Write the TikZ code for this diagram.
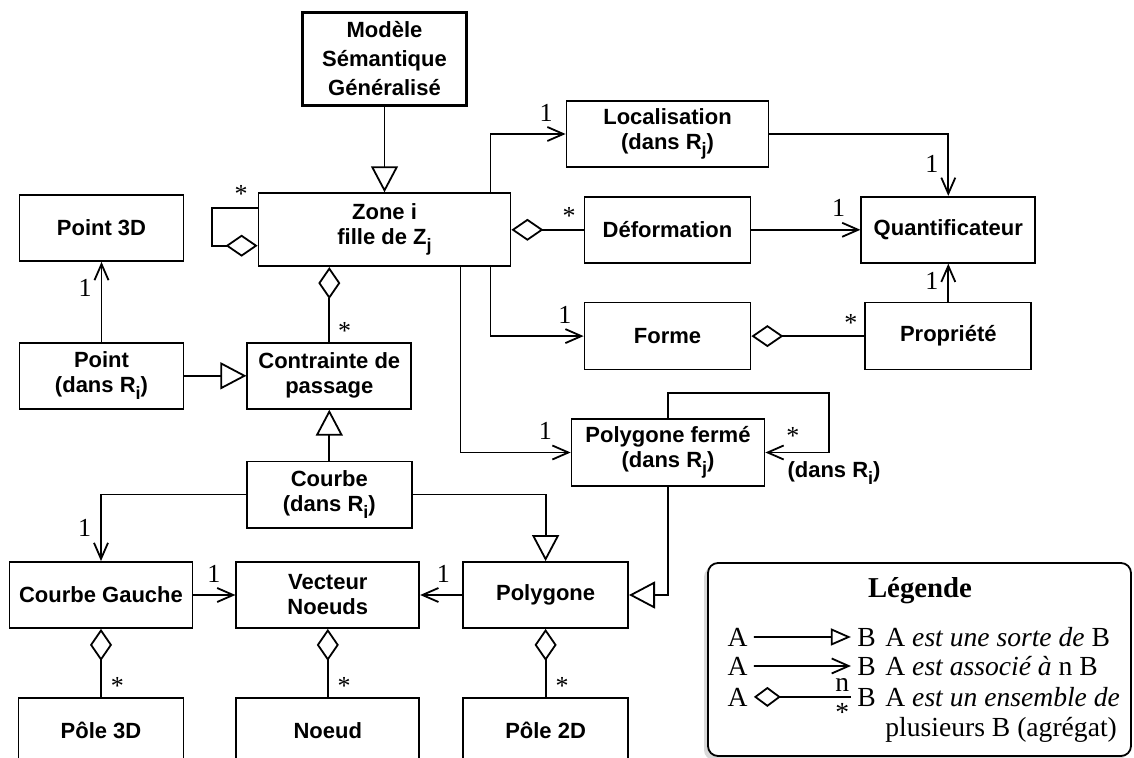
\documentclass[tikz,border=0pt]{standalone}
\usepackage{fontspec}
\setmainfont{Liberation Serif}
\setsansfont{Liberation Sans}
\usepackage{tikz}
\usetikzlibrary{arrows.meta,positioning,shadows}

\newcommand{\idx}[1]{\raisebox{-3.4pt}{\fontsize{9}{9}\selectfont #1}}

\begin{document}
\begin{tikzpicture}[
    x=0.5pt, y=-0.5pt,
    every node/.style={font=\fontsize{11}{12.5}\selectfont\sffamily\bfseries},
    classe/.style={rectangle, draw, line width=0.9pt, minimum height=33pt, align=center, inner sep=2pt},
    gen/.style={-{Triangle[open, length=13pt, width=13.5pt]}, line width=0.9pt},
    assoc/.style={-{Straight Barb[length=8pt, width=7pt]}, line width=0.9pt},
    aggr/.style={{Diamond[open, length=16pt, width=11pt]}-, line width=0.9pt},
    mult/.style={font=\fontsize{13}{13}\selectfont, inner sep=1pt},
    legtxt/.style={font=\fontsize{13.8}{15}\selectfont, inner sep=3pt}
]
\useasboundingbox (0,0) rectangle (1134,758);

% classes
\node[classe, line width=1.8pt, minimum width=82pt, minimum height=46.5pt, font=\fontsize{11}{14.5}\selectfont\sffamily\bfseries] (modele) at (384.5,59) {Modèle\\Sémantique\\Généralisé};
\node[classe, minimum width=126pt, minimum height=36.5pt, below=42.5pt of modele] (zone) {Zone i\\fille de Z\idx{j}};

\node[classe, minimum width=82pt] (point3d) at (101.5,228) {Point 3D};
\node[classe, minimum width=82pt, below=40pt of point3d] (point) {Point\\(dans R\idx{i})};
\node[classe, minimum width=82pt, right=31pt of point] (contrainte) {Contrainte de\\passage};
\node[classe, minimum width=82.5pt, below=25.5pt of contrainte] (courbe) {Courbe\\(dans R\idx{i})};

\node[classe, minimum width=91.5pt] (cgauche) at (101,595) {Courbe Gauche};
\node[classe, minimum width=91.5pt, right=21pt of cgauche] (vecteur) {Vecteur\\Noeuds};
\node[classe, minimum width=82.5pt, right=21pt of vecteur] (polygone) {Polygone};
\node[classe, minimum width=82.5pt, below=34pt of cgauche] (pole3d) {Pôle 3D};
\node[classe, minimum width=91.5pt, below=34pt of vecteur] (noeud) {Noeud};
\node[classe, minimum width=82.5pt, below=34pt of polygone] (pole2d) {Pôle 2D};

\node[classe, minimum width=101pt] (loc) at (667.5,134) {Localisation\\(dans R\idx{j})};
\node[classe, minimum width=83pt, below=14pt of loc] (deform) {Déformation};
\node[classe, minimum width=87pt, right=54.5pt of deform] (quant) {Quantificateur};
\node[classe, minimum width=83pt, minimum height=33.5pt, below=19pt of deform] (forme) {Forme};
\node[classe, minimum width=83pt, minimum height=33.5pt, below=19pt of quant] (prop) {Propriété};
\node[classe, minimum width=96.5pt, minimum height=33.5pt] (pferme) at (668,452.5) {Polygone fermé\\(dans R\idx{j})};

% relations
\draw[gen] (modele) -- (zone);
\draw[aggr] ([yshift=-8pt]zone.west) -- ++(-46,0) |- node[mult, pos=0.82, above=1pt] {*} ([yshift=11pt]zone.west);
\draw[assoc] ([xshift=53pt]zone.north) |- node[mult, pos=0.87, above=5pt] {1} (loc.west);
\draw[assoc] (loc.east) -| node[mult, pos=0.74, left=3.5pt] {1} (quant.north);
\draw[aggr] (zone.east |- deform.west) -- node[mult, pos=0.8, above=1pt] {*} (deform.west);
\draw[assoc] (deform) -- node[mult, pos=0.8, above=5pt] {1} (quant);
\draw[assoc] ([xshift=53pt]zone.south) |- node[mult, pos=0.9, above=5pt] {1} (forme.west);
\draw[aggr] (forme) -- node[mult, pos=0.88, above=1pt] {*} (prop);
\draw[assoc] (prop) -- node[mult, pos=0.55, left=3.5pt] {1} (quant);
\draw[assoc] ([xshift=38pt]zone.south) |- node[mult, pos=0.885, above=5pt] {1} (pferme.west);
\draw[assoc] (pferme.north) -- ++(0,-25) -- ++(161,0) |- node[mult, pos=0.785, above=2.5pt] {*}
    node[pos=0.5, below=3pt, xshift=2.5pt, inner sep=1pt] {(dans R\idx{i})} (pferme.east);
\draw[gen] (pferme.south) |- (polygone.east);

\draw[aggr] (zone.south -| contrainte.north) -- node[mult, pos=0.85, right=3pt] {*} (contrainte.north);
\draw[assoc] (point) -- node[mult, pos=0.67, left=3.5pt] {1} (point3d);
\draw[gen] (point) -- (contrainte);
\draw[gen] (courbe) -- (contrainte);
\draw[assoc] (courbe.west) -| node[mult, pos=0.75, left=3.5pt] {1} (cgauche.north);
\draw[gen] (courbe.east) -| (polygone.north);
\draw[assoc] (cgauche) -- node[mult, pos=0.49, above=5pt] {1} (vecteur);
\draw[assoc] (polygone) -- node[mult, pos=0.45, above=5pt] {1} (vecteur);
\draw[aggr] (cgauche) -- node[mult, pos=0.84, right=3.5pt] {*} (pole3d);
\draw[aggr] (vecteur) -- node[mult, pos=0.84, right=3.5pt] {*} (noeud);
\draw[aggr] (polygone) -- node[mult, pos=0.84, right=3.5pt] {*} (pole2d);

% legende
\node[draw, line width=0.9pt, rounded corners=5pt, fill=white, minimum width=211.5pt, minimum height=96.5pt,
    drop shadow={shadow xshift=-2pt, shadow yshift=-2pt, opacity=0.3}] (legende) at (919.5,659.5) {};
\node[legtxt, font=\fontsize{14.4}{15}\selectfont\bfseries, anchor=base] (titre) at (920,597) {Légende};
\node[legtxt, anchor=base] (a1) at (737.5,646) {A};
\node[legtxt, anchor=base] (b1) at (866.5,646) {B};
\node[legtxt, anchor=base] (a2) at (737.5,675) {A};
\node[legtxt, anchor=base] (b2) at (866.5,675) {B};
\node[legtxt, anchor=base] (a3) at (737.5,706) {A};
\node[legtxt, anchor=base] (b3) at (866.5,706) {B};
\node[legtxt, anchor=base west] (t1) at (879,646) {A \textit{est une sorte de} B};
\node[legtxt, anchor=base west] (t2) at (879,675) {A \textit{est associé à} n B};
\node[legtxt, anchor=base west] (t3) at (879,706) {A \textit{est un ensemble de}};
\node[legtxt, anchor=base west] (t4) at (879,736.5) {plusieurs B (agrégat)};
\draw[gen, -{Triangle[open, length=10pt, width=8.5pt]}] (a1) -- (b1);
\draw[assoc, -{Straight Barb[length=8.5pt, width=7.5pt]}] (a2) -- (b2);
\draw[aggr, {Diamond[open, length=13.5pt, width=10pt]}-] (a3) -- node[legtxt, pos=0.91, above=-0.5pt] {n}
    node[legtxt, pos=0.91, below=0pt] {*} (b3);

\end{tikzpicture}
\end{document}
